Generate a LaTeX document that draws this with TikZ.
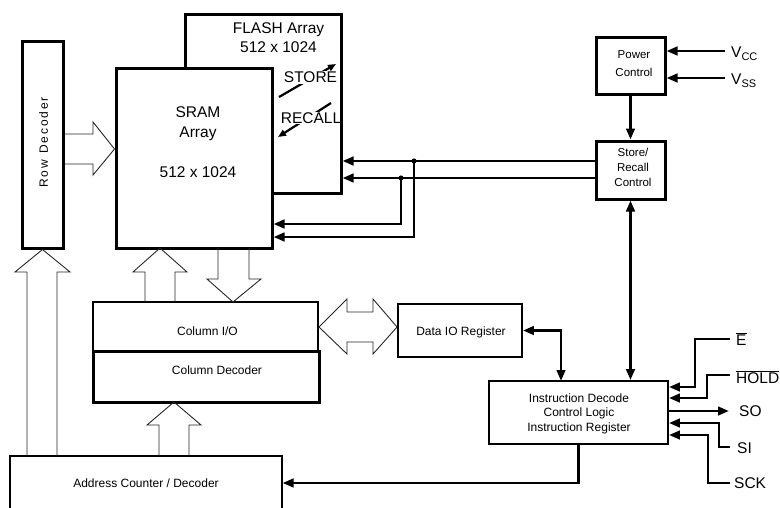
\documentclass[tikz,border=0pt]{standalone}
\usepackage{fontspec}
\setmainfont{Liberation Sans}
\usetikzlibrary{arrows.meta}
\newcommand\ksp{\kern1.9pt}
\begin{document}
\begin{tikzpicture}[x=1pt,y=-1pt,
  box/.style={draw, rectangle, inner sep=0pt},
  heavy/.style={line width=3pt},
  medium/.style={line width=1.9pt},
  light/.style={line width=1.2pt},
  tip/.tip={Triangle[length=11pt,width=8.5pt]},
  sig/.style={line width=2.7pt, -tip},
  sigb/.style={line width=2.7pt, tip-tip},
  hol/.style={line width=0.9pt, line join=miter, draw=black!85},
  big/.style={font=\fontsize{15.5}{19}\selectfont, inner sep=0pt},
  sm/.style={font=\fontsize{12}{14.5}\selectfont, inner sep=0pt, align=center},
  smm/.style={font=\fontsize{11.5}{15}\selectfont, inner sep=0pt, align=center},
  ]
\useasboundingbox (0,0) rectangle (780,507);

% STORE / RECALL arrows and labels (behind the FLASH border)
\draw[line width=2.2pt, -{Triangle[length=8pt,width=6.5pt]}] (279,97) -- (336,64);
\draw[line width=2.2pt, -{Triangle[length=8pt,width=6.5pt]}] (331,103) -- (278,137);
\node[big, fill=white, inner sep=0.8pt] (storet) at (310.5,77.5) {STORE};
\node[big, fill=white, inner sep=0.8pt] (recallt) at (311,118) {RECALL};

% FLASH array
\node[box, heavy, minimum width=156pt, minimum height=179pt] (flash) at (263,103.5) {};
\node[big, align=center] (flasht) at (278.5,37.5) {FLASH Array\\512 x 1024};

% SRAM array
\node[box, heavy, fill=white, minimum width=156pt, minimum height=180pt] (sram) at (194,158) {};
\node[big, align=center, font=\fontsize{15.5}{20}\selectfont] (sramt) at (198,142) {SRAM\\Array\\[20pt]512 x 1024};

% Row decoder
\node[box, heavy, minimum width=41pt, minimum height=207pt] (rowdec) at (42.5,144.5) {};
\node[rotate=90, font=\fontsize{12}{12}\selectfont, inner sep=0pt] (rowt) at (43.5,142.5)
  {R\ksp o\ksp w\hspace{6pt}D\ksp e\ksp c\ksp o\ksp d\ksp e\ksp r};

% Power control and Store/Recall control
\node[box, heavy, minimum width=69pt, minimum height=57pt] (power) at (630.5,65.5) {};
\node[smm, font=\fontsize{11.5}{18}\selectfont] (powert) at (634,64) {Power\\Control};
\node[box, heavy, minimum width=69pt, minimum height=58pt] (store) at (630.5,170) {};
\node[smm] (storetx) at (633,167) {Store/\\Recall\\Control};

% Column I/O, Column decoder
\node[box, medium, minimum width=225pt, minimum height=49pt] (colio) at (205.5,326.5) {};
\node[sm] (coliot) at (207.5,331) {Column I/O};
\node[box, heavy, minimum width=226pt, minimum height=51pt] (coldec) at (206,376.5) {};
\node[sm] (coldect) at (217,370) {Column Decoder};

% Data IO register, Instruction block
\node[box, medium, minimum width=124pt, minimum height=53pt] (dataio) at (460,330.5) {};
\node[sm] (dataiot) at (461,332.2) {Data IO Register};
\node[box, medium, minimum width=179pt, minimum height=63pt] (instr) at (578.5,412.5) {};
\node[sm] (instrt) at (579,413.7) {Instruction Decode\\Control Logic\\Instruction Register};

% Address counter (open at the bottom edge)
\node[box, light, minimum width=272pt, minimum height=58pt] (addr) at (146,485) {};
\node[sm] (addrt) at (146,483.5) {Address Counter / Decoder};

% Hollow bus arrows
\draw[hol] (rowdec.east |- 0,134) -- (93,134) -- (93,122) -- (sram.west |- 0,149) -- (93,175) -- (93,164) -- (rowdec.east |- 0,164);
\draw[hol] (27,456) -- (27,272) -- (15,272) -- (rowdec.south) -- (70,272) -- (57,272) -- (57,456);
\draw[hol] (145,302) -- (145,272) -- (133,272) -- (160,248) -- (187,272) -- (175,272) -- (175,302);
\draw[hol] (218,248) -- (218,279) -- (207,279) -- (233,302) -- (261,279) -- (249,279) -- (249,248);
\draw[hol] (159,456) -- (159,425) -- (147,425) -- (174,402) -- (201,425) -- (189,425) -- (189,456);
\draw[hol] (colio.east |- 0,327) -- (347,299) -- (347,312) -- (373,312) -- (373,299) -- (dataio.west |- 0,327)
  -- (373,354) -- (373,342) -- (347,342) -- (347,354) -- cycle;

% Power inputs
\coordinate (vcc) at (725,51);
\coordinate (vss) at (725,78);
\draw[sig] (vcc) -- (power.east |- vcc);
\draw[sig] (vss) -- (power.east |- vss);
\node[big, anchor=base west] (vcct) at (731,57.5) {V\raisebox{-3pt}{\fontsize{11}{11}\selectfont CC}};
\node[big, anchor=base west] (vsst) at (731,84.5) {V\raisebox{-3pt}{\fontsize{11}{11}\selectfont SS}};
\draw[sig] (power.south) -- (store.north);

% Store/Recall control lines
\coordinate (j1) at (414,161);
\coordinate (j2) at (401,178);
\draw[sig] (store.west |- j1) -- (flash.east |- j1);
\draw[sig] (store.west |- j2) -- (flash.east |- j2);
\draw[sig] (j1) -- (414,237) -- (sram.east |- 0,237);
\draw[sig] (j2) -- (401,224) -- (sram.east |- 0,224);
\fill (j1) circle (2.6pt);
\fill (j2) circle (2.6pt);

% Store/Recall <-> Instruction
\draw[sigb] (store.south) -- (store.south |- instr.north);
% Data IO <-> Instruction
\draw[sigb] (dataio.east) -| (561,381);
% Instruction -> Address counter
\draw[sig] (instr.south |- 0,444) -- (578.5,483) -- (addr.east |- 0,483);

% Serial interface pins
\coordinate (pE) at (730,339);
\coordinate (pH) at (730,375);
\coordinate (pO) at (729,411);
\coordinate (pI) at (730,447);
\coordinate (pK) at (730,483);
\draw[sig] (pE) -- (695,339) -- (695,387) -- (instr.east |- 0,387);
\draw[sig] (pH) -- (707,375) -- (707,398) -- (instr.east |- 0,398);
\draw[sig] (instr.east |- pO) -- (pO);
\draw[sig] (pI) -- (719,447) -- (719,423) -- (instr.east |- 0,423);
\draw[sig] (pK) -- (708,483) -- (708,435) -- (instr.east |- 0,435);
\node[big, anchor=base west] (lE) at (736,345) {$\overline{\mbox{E}}$};
\node[big, anchor=base west] (lH) at (736,383.3) {$\overline{\mbox{HOLD}}$};
\node[big, anchor=base west] (lO) at (739,416.5) {SO};
\node[big, anchor=base west] (lI) at (737,453.5) {SI};
\node[big, anchor=base west] (lK) at (734,488.5) {SCK};
\end{tikzpicture}
\end{document}
